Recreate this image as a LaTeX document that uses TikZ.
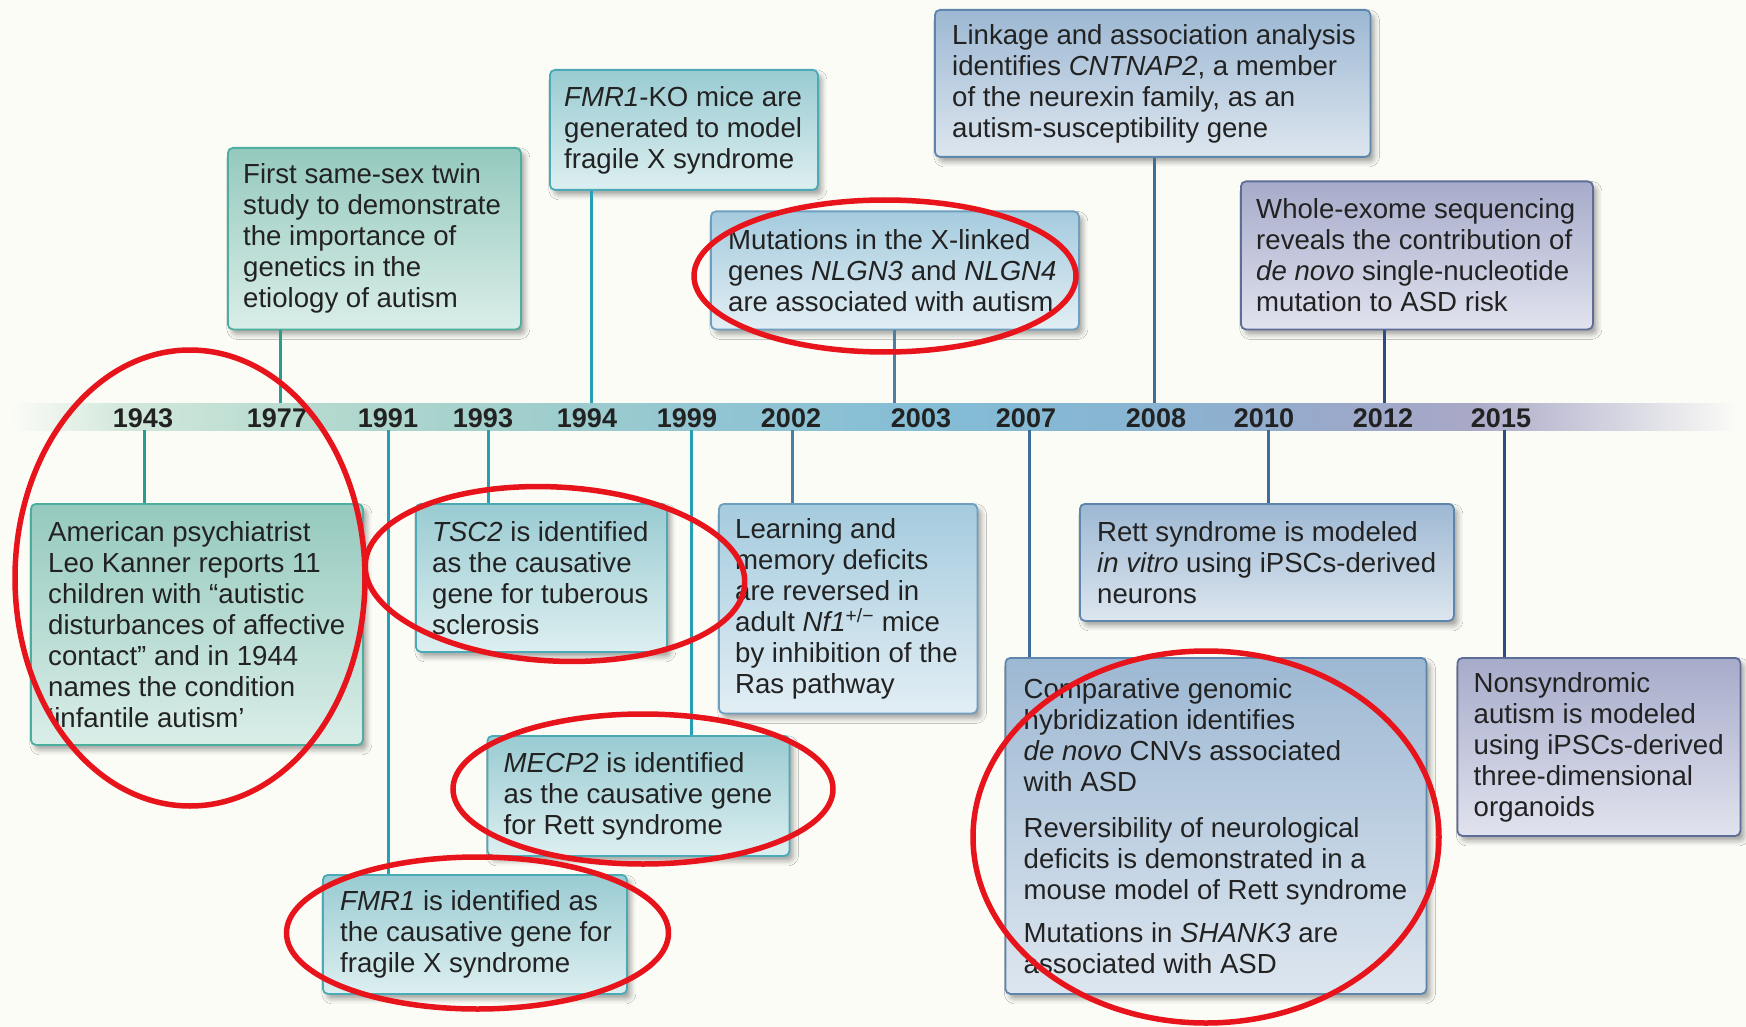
\documentclass[tikz,border=0pt]{standalone}
\usepackage{fontspec}
\setmainfont{Liberation Sans}
\usetikzlibrary{shadows.blur}

% page and timeline band
\definecolor{bg}{HTML}{FCFCF7}
\definecolor{barA}{HTML}{D3E8DC}
\definecolor{barB}{HTML}{B6DACF}
\definecolor{barC}{HTML}{A2D0CC}
\definecolor{barD}{HTML}{92C5D3}
\definecolor{barE}{HTML}{84BCD6}
\definecolor{barF}{HTML}{88B4D2}
\definecolor{barG}{HTML}{98A9CA}
\definecolor{barH}{HTML}{A9A8C7}
\definecolor{barI}{HTML}{D6D6E2}
% box families
\definecolor{tealT}{HTML}{95C9BE}
\definecolor{tealB}{HTML}{DAEEE8}
\definecolor{tealD}{HTML}{4BAE9E}
\definecolor{cyanT}{HTML}{99CBD2}
\definecolor{cyanB}{HTML}{DDEFF0}
\definecolor{cyanD}{HTML}{4AAAB6}
\definecolor{lbluT}{HTML}{A5CBDE}
\definecolor{lbluB}{HTML}{E2EEF4}
\definecolor{lbluD}{HTML}{6E9EC0}
\definecolor{bluT}{HTML}{9DB8D3}
\definecolor{bluB}{HTML}{DDE6EF}
\definecolor{bluD}{HTML}{5E86AC}
\definecolor{slaT}{HTML}{A6ABCA}
\definecolor{slaB}{HTML}{E1E3EE}
\definecolor{slaD}{HTML}{5E6C98}
% stems, text, rings
\definecolor{stTeal}{HTML}{2A9D8F}
\definecolor{stCyan}{HTML}{23A0B4}
\definecolor{stLblu}{HTML}{4D7FA6}
\definecolor{stBlu}{HTML}{3F6D9A}
\definecolor{stSla}{HTML}{2A4D85}
\definecolor{ink}{HTML}{222222}
\definecolor{ring}{HTML}{E8141C}

\tikzset{
  evbox/.style={draw, line width=1.8pt, rounded corners=5pt, inner sep=0pt,
    anchor=north west,
    blur shadow={shadow xshift=4pt, shadow yshift=-5pt,
      shadow blur radius=5pt, shadow opacity=35}},
  tealbox/.style={evbox, draw=tealD, top color=tealT, bottom color=tealB},
  cyanbox/.style={evbox, draw=cyanD, top color=cyanT, bottom color=cyanB},
  lblubox/.style={evbox, draw=lbluD, top color=lbluT, bottom color=lbluB},
  blubox/.style={evbox, draw=bluD, top color=bluT, bottom color=bluB},
  slabox/.style={evbox, draw=slaD, top color=slaT, bottom color=slaB},
  txt/.style={anchor=west, align=left, inner sep=0pt, text=ink,
    font=\fontsize{27.6}{31}\selectfont},
  year/.style={anchor=base, inner sep=0pt, text=ink,
    font=\bfseries\fontsize{27}{31}\selectfont},
  stem/.style={line width=3pt},
  redring/.style={draw=ring, line width=5.5pt},
}

\begin{document}
\begin{tikzpicture}[x=1pt, y=-1pt]
\fill[bg] (0,0) rectangle (1746,1027);
\useasboundingbox (0,0) rectangle (1746,1027);

% timeline band, fading in at the left and out at the right
\shade[left color=bg,   right color=barA] (10,403)   rectangle (121,430);
\shade[left color=barA, right color=barB] (120,403)  rectangle (301,430);
\shade[left color=barB, right color=barC] (300,403)  rectangle (501,430);
\shade[left color=barC, right color=barD] (500,403)  rectangle (721,430);
\shade[left color=barD, right color=barE] (720,403)  rectangle (951,430);
\shade[left color=barE, right color=barF] (950,403)  rectangle (1151,430);
\shade[left color=barF, right color=barG] (1150,403) rectangle (1321,430);
\shade[left color=barG, right color=barH] (1320,403) rectangle (1471,430);
\shade[left color=barH, right color=barI] (1470,403) rectangle (1621,430);
\shade[left color=barI, right color=bg]   (1620,403) rectangle (1740,430);

% event boxes
\node[tealbox, minimum width=293pt,   minimum height=181.5pt] (b1977) at (227,147) {};
\node[cyanbox, minimum width=268pt,   minimum height=120pt]   (b1994) at (549,69) {};
\node[lblubox, minimum width=368pt,   minimum height=118pt]   (b2003) at (710,210.5) {};
\node[blubox,  minimum width=435.5pt, minimum height=147pt]   (b2008) at (934,9) {};
\node[slabox,  minimum width=352pt,   minimum height=148pt]   (b2012) at (1240,180.5) {};
\node[tealbox, minimum width=332pt,   minimum height=241pt]   (b1943) at (30,503) {};
\node[cyanbox, minimum width=251pt,   minimum height=148pt]   (b1993) at (415,503) {};
\node[cyanbox, minimum width=302pt,   minimum height=120pt]   (b1999) at (486.5,735) {};
\node[cyanbox, minimum width=304pt,   minimum height=119pt]   (b1991) at (322,874) {};
\node[lblubox, minimum width=258.5pt, minimum height=209.5pt] (b2002) at (718,503) {};
\node[blubox,  minimum width=374pt,   minimum height=117pt]   (b2010) at (1079,503) {};
\node[blubox,  minimum width=421pt,   minimum height=336pt]   (b2007) at (1004.5,657) {};
\node[slabox,  minimum width=283pt,   minimum height=178pt]   (b2015) at (1456.5,657) {};

% stems between the band and the boxes
\coordinate (c1943) at (144,430);
\coordinate (c1977) at (280,403);
\coordinate (c1991) at (388.5,430);
\coordinate (c1993) at (488,430);
\coordinate (c1994) at (591,403);
\coordinate (c1999) at (691.5,430);
\coordinate (c2002) at (792,430);
\coordinate (c2003) at (894,403);
\coordinate (c2007) at (1029,430);
\coordinate (c2008) at (1154,403);
\coordinate (c2010) at (1268.5,430);
\coordinate (c2012) at (1384,403);
\coordinate (c2015) at (1504.5,430);

\draw[stem, draw=stTeal] (c1943) -- (c1943 |- b1943.north);
\draw[stem, draw=stTeal] (c1977) -- (c1977 |- b1977.south);
\draw[stem, draw=stCyan] (c1991) -- (c1991 |- b1991.north);
\draw[stem, draw=stCyan] (c1993) -- (c1993 |- b1993.north);
\draw[stem, draw=stCyan] (c1994) -- (c1994 |- b1994.south);
\draw[stem, draw=stCyan] (c1999) -- (c1999 |- b1999.north);
\draw[stem, draw=stLblu] (c2002) -- (c2002 |- b2002.north);
\draw[stem, draw=stLblu] (c2003) -- (c2003 |- b2003.south);
\draw[stem, draw=stBlu]  (c2007) -- (c2007 |- b2007.north);
\draw[stem, draw=stBlu]  (c2008) -- (c2008 |- b2008.south);
\draw[stem, draw=stBlu]  (c2010) -- (c2010 |- b2010.north);
\draw[stem, draw=stSla]  (c2012) -- (c2012 |- b2012.south);
\draw[stem, draw=stSla]  (c2015) -- (c2015 |- b2015.north);

% box texts
\node[txt] (t1977) at ([xshift=16pt]b1977.west)
  {First same-sex twin\\study to demonstrate\\the importance of\\genetics in the\\etiology of autism};
\node[txt] (t1994) at ([xshift=15pt]b1994.west)
  {\textit{FMR1}-KO mice are\\generated to model\\fragile X syndrome};
\node[txt] (t2003) at ([xshift=18pt]b2003.west)
  {Mutations in the X-linked\\genes \textit{NLGN3} and \textit{NLGN4}\\are associated with autism};
\node[txt] (t2008) at ([xshift=18pt]b2008.west)
  {Linkage and association analysis\\identifies \textit{CNTNAP2}, a member\\of the neurexin family, as an\\autism-susceptibility gene};
\node[txt] (t2012) at ([xshift=16pt]b2012.west)
  {Whole-exome sequencing\\reveals the contribution of\\\textit{de novo} single-nucleotide\\mutation to ASD risk};
\node[txt] (t1943) at ([xshift=18pt]b1943.west)
  {American psychiatrist\\Leo Kanner reports 11\\children with “autistic\\disturbances of affective\\contact” and in 1944\\names the condition\\‘infantile autism’};
\node[txt] (t1993) at ([xshift=17pt]b1993.west)
  {\textit{TSC2} is identified\\as the causative\\gene for tuberous\\sclerosis};
\node[txt] (t1999) at ([xshift=17pt]b1999.west)
  {\textit{MECP2} is identified\\as the causative gene\\for Rett syndrome};
\node[txt] (t1991) at ([xshift=18pt]b1991.west)
  {\textit{FMR1} is identified as\\the causative gene for\\fragile X syndrome};
\node[txt] (t2002) at ([xshift=17pt]b2002.west)
  {Learning and\\memory deficits\\are reversed in\\adult \textit{Nf1}\textsuperscript{+/−} mice\\by inhibition of the\\Ras pathway};
\node[txt] (t2010) at ([xshift=18pt]b2010.west)
  {Rett syndrome is modeled\\\textit{in vitro} using iPSCs-derived\\neurons};
\node[txt] (t2007) at ([xshift=19pt]b2007.west)
  {Comparative genomic\\hybridization identifies\\\textit{de novo} CNVs associated\\with ASD\\[15pt]Reversibility of neurological\\deficits is demonstrated in a\\mouse model of Rett syndrome\\[12pt]Mutations in \textit{SHANK3} are\\associated with ASD};
\node[txt] (t2015) at ([xshift=17pt]b2015.west)
  {Nonsyndromic\\autism is modeled\\using iPSCs-derived\\three-dimensional\\organoids};

% year labels on the band
\node[year] (y1943) at (143,427) {1943};
\node[year] (y1977) at (277,427) {1977};
\node[year] (y1991) at (388,427) {1991};
\node[year] (y1993) at (483,427) {1993};
\node[year] (y1994) at (587,427) {1994};
\node[year] (y1999) at (687,427) {1999};
\node[year] (y2002) at (791,427) {2002};
\node[year] (y2003) at (921,427) {2003};
\node[year] (y2007) at (1026,427) {2007};
\node[year] (y2008) at (1156,427) {2008};
\node[year] (y2010) at (1264,427) {2010};
\node[year] (y2012) at (1383,427) {2012};
\node[year] (y2015) at (1501,427) {2015};

% red highlight rings
\draw[redring] (190,578)   ellipse [x radius=175pt, y radius=228pt];
\draw[redring, rotate around={-3:(555,574)}] (555,574) ellipse [x radius=190pt, y radius=87pt];
\draw[redring] (885,276)   ellipse [x radius=191pt, y radius=76pt];
\draw[redring] (643,789)   ellipse [x radius=190pt, y radius=75pt];
\draw[redring] (477.5,933) ellipse [x radius=191pt, y radius=76pt];
\draw[redring] (1206,837)  ellipse [x radius=233pt, y radius=186pt];
\end{tikzpicture}
\end{document}
